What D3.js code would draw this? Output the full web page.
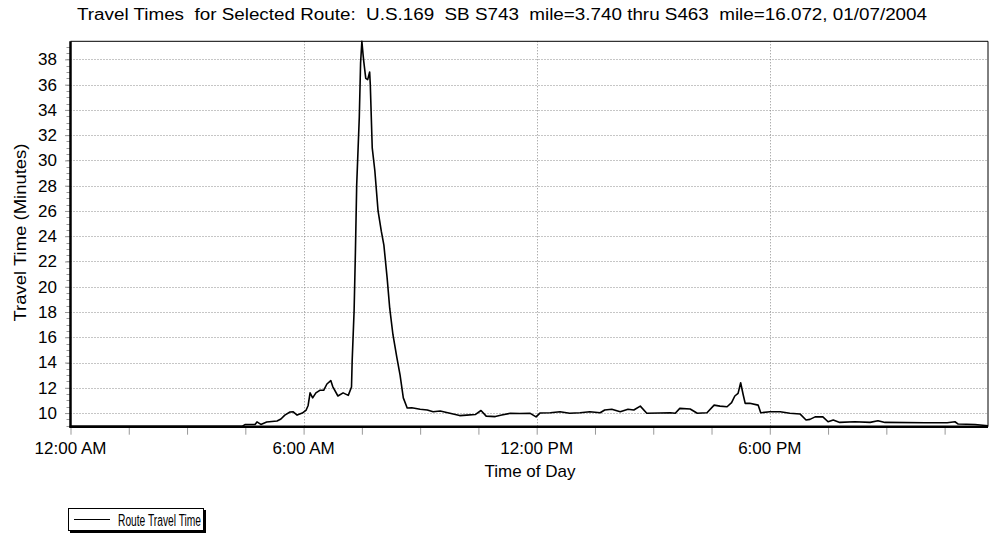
<!DOCTYPE html>
<html><head><meta charset="utf-8">
<script src="https://cdn.jsdelivr.net/npm/d3@7/dist/d3.min.js"></script>
<style>
html,body{margin:0;padding:0;background:#fff;}
text{font-family:"Liberation Sans",Arial,sans-serif;fill:#000;}
</style></head>
<body><svg id="chart" width="990" height="540"></svg>
<script>
// ---- data (minutes after midnight, travel time in minutes) ----
const times = [0,265,270,285,288,294,303,319,325,331,339,344,350,358,364,367,370,374,379,385,391,396,402,405,413,421,429,434,435,438,440,442,446,448,450,452,453,456,459,462,463,466,470,475,480,484,489,493,498,504,509,514,520,527,540,551,560,571,586,601,612,625,634,642,656,666,679,694,710,719,725,741,756,771,787,802,818,825,836,849,861,870,880,890,910,926,934,941,957,968,983,994,1003,1014,1021,1026,1031,1035,1039,1042,1049,1062,1066,1080,1096,1111,1127,1136,1142,1150,1162,1170,1178,1188,1211,1235,1247,1258,1320,1354,1366,1371,1397,1417];
const travel = [8.95,8.95,9.1,9.1,9.3,9.1,9.29,9.37,9.53,9.84,10.08,10.1,9.84,10.0,10.24,10.6,11.6,11.2,11.6,11.8,11.8,12.3,12.57,12.1,11.35,11.6,11.4,12.06,14.1,18.1,22.7,28.05,33.4,37.7,39.43,38.3,37.8,36.5,36.4,37.0,36.0,31.0,29.2,26.0,24.4,23.3,20.7,18.3,16.2,14.4,13.0,11.2,10.4,10.42,10.3,10.24,10.1,10.16,9.98,9.8,9.84,9.88,10.2,9.76,9.72,9.84,9.98,9.96,9.98,9.7,10.0,10.02,10.1,9.98,10.02,10.1,10.02,10.24,10.3,10.1,10.3,10.24,10.55,9.98,10.0,10.02,9.98,10.37,10.32,9.98,10.02,10.63,10.55,10.5,10.82,11.35,11.56,12.4,11.43,10.77,10.77,10.63,10.02,10.1,10.1,9.98,9.92,9.45,9.5,9.7,9.7,9.31,9.45,9.26,9.31,9.26,9.39,9.26,9.23,9.23,9.31,9.13,9.09,9.0];
const yTickValues = [10,12,14,16,18,20,22,24,26,28,30,32,34,36,38];
const xLabelTicks = [0,360,720,1080];
const xLabels = ["12:00 AM","6:00 AM","12:00 PM","6:00 PM"];
const xMinorTicks = [0,90,180,270,360,450,540,630,720,810,900,990,1080,1170,1260,1350];
const yDomain = [8.92,39.43];
const xDomain = [0,1417];
const titleText = "Travel Times  for Selected Route:  U.S.169  SB S743  mile=3.740 thru S463  mile=16.072, 01/07/2004";
const yTitle = "Travel Time (Minutes)";
const xTitle = "Time of Day";
const seriesName = "Route Travel Time";

// ---- layout ----
const L = 70.5, R = 988, T = 41.3, B = 426.7;
const svg = d3.select("#chart");
const x = d3.scaleLinear().domain(xDomain).range([L, R]);
const y = d3.scaleLinear().domain(yDomain).range([B, T]);

// title
svg.append("text").attr("x", 502).attr("y", 20).attr("text-anchor","middle")
  .attr("font-size", 16).attr("textLength", 850).attr("lengthAdjust","spacingAndGlyphs")
  .style("white-space","pre").text(titleText);

// gridlines
const g = svg.append("g");
g.selectAll("line.hg").data(yTickValues).join("line")
  .attr("x1", L).attr("x2", R).attr("y1", d => Math.round(y(d))+0.5).attr("y2", d => Math.round(y(d))+0.5)
  .attr("stroke","#8c8c8c").attr("stroke-dasharray","1,2").attr("stroke-width",1);
g.selectAll("line.vg").data(xLabelTicks.slice(1)).join("line")
  .attr("y1", T).attr("y2", B).attr("x1", d => Math.round(x(d))+0.5).attr("x2", d => Math.round(x(d))+0.5)
  .attr("stroke","#8c8c8c").attr("stroke-dasharray","1,2").attr("stroke-width",1);

// y axis minor ticks
const minorY = d3.range(9, 39.43, 0.5);
svg.append("g").selectAll("line").data(minorY).join("line")
  .attr("x1", L-4).attr("x2", L).attr("y1", d => Math.round(y(d))+0.5).attr("y2", d => Math.round(y(d))+0.5)
  .attr("stroke","#999");
// y axis labels via d3 axis
const yAxis = d3.axisLeft(y).tickValues(yTickValues).tickSize(5).tickPadding(8);
const ya = svg.append("g").attr("transform", `translate(${L-0.5},0)`).call(yAxis);
ya.select(".domain").remove();
ya.selectAll(".tick line").attr("stroke","#999");
ya.selectAll(".tick text").attr("font-size",17).attr("font-family","Liberation Sans, Arial, sans-serif").attr("fill","#000");

// x axis ticks
const xAxis = d3.axisBottom(x).tickValues(xMinorTicks).tickSize(8).tickFormat("");
const xa = svg.append("g").attr("transform", `translate(0,${B})`).call(xAxis);
xa.select(".domain").remove();
xa.selectAll(".tick line").attr("stroke","#999");
svg.append("g").selectAll("text").data(xLabelTicks).join("text")
  .attr("x", d => x(d)).attr("y", 454).attr("text-anchor","middle").attr("font-size",17)
  .text((d,i) => xLabels[i]);

// frame
svg.append("line").attr("x1",L).attr("x2",R).attr("y1",T).attr("y2",T).attr("stroke","#000").attr("stroke-width",1);
svg.append("line").attr("x1",R).attr("x2",R).attr("y1",T).attr("y2",B).attr("stroke","#000").attr("stroke-width",1);

// data line
const line = d3.line().x((d,i) => x(times[i])).y(d => y(d));
svg.append("path").datum(travel).attr("d", line).attr("fill","none").attr("stroke","#000").attr("stroke-width",1.6).attr("stroke-linejoin","round");

// thick axes
svg.append("line").attr("x1",L).attr("x2",L).attr("y1",T).attr("y2",B+1).attr("stroke","#000").attr("stroke-width",2.5);
svg.append("line").attr("x1",L-1).attr("x2",R).attr("y1",B).attr("y2",B).attr("stroke","#000").attr("stroke-width",2.5);

// axis titles
svg.append("text").attr("x", 530).attr("y", 477).attr("text-anchor","middle").attr("font-size",17).text(xTitle);
svg.append("text").attr("transform","translate(26,232.5) rotate(-90)").attr("text-anchor","middle").attr("font-size",17)
  .attr("textLength",178).attr("lengthAdjust","spacingAndGlyphs").text(yTitle);

// legend
const lg = svg.append("g");
lg.append("rect").attr("x",70).attr("y",510).attr("width",136).attr("height",23).attr("fill","#000");
lg.append("rect").attr("x",68.5).attr("y",508.5).attr("width",135).attr("height",22).attr("fill","#fff").attr("stroke","#000");
lg.append("line").attr("x1",74).attr("x2",110).attr("y1",519.5).attr("y2",519.5).attr("stroke","#000").attr("stroke-width",1.2);
lg.append("text").attr("x",118).attr("y",525.5).attr("font-size",16).attr("textLength",83).attr("lengthAdjust","spacingAndGlyphs").text(seriesName);
</script></body></html>
